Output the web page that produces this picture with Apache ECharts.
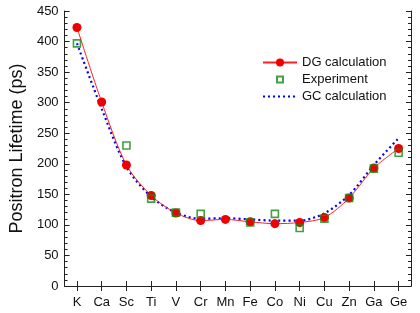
<!DOCTYPE html>
<html><head><meta charset="utf-8">
<script src="https://cdn.jsdelivr.net/npm/echarts@6/dist/echarts.min.js"></script>
<style>html,body{margin:0;padding:0;background:#fff}#c{width:420px;height:313px}</style>
</head><body><div id="c"></div>
<script>
const elements = ['K','Ca','Sc','Ti','V','Cr','Mn','Fe','Co','Ni','Cu','Zn','Ga','Ge'];
const dgCalc = [423, 301, 198, 148, 119.5, 107, 109, 105, 102, 104, 112, 144, 193, 225];
const experiment = [397, null, 230, 143, 120, 118, null, 104, 118, 95, 110, 144, 192, 218];
const gcCalc = [397, 290, 195, 146, 120, 110, 111, 109, 107, 107, 119, 149, 198, 242];
const yTicks = [0, 450, 50];

const font = 'Liberation Sans, Arial, Helvetica, sans-serif';
const axisCol = '#222';
const chart = echarts.init(document.getElementById('c'));
const xBase = {
  type: 'category', data: elements, boundaryGap: true,
  axisLine: {lineStyle: {color: axisCol, width: 1}},
  axisTick: {show: true, inside: true, alignWithLabel: true, length: 5, lineStyle: {color: axisCol}},
  splitLine: {show: false}
};
const yBase = {
  type: 'value', min: yTicks[0], max: yTicks[1], interval: yTicks[2],
  axisLine: {show: true, lineStyle: {color: axisCol, width: 1}},
  axisTick: {show: true, inside: true, length: 5, lineStyle: {color: axisCol}},
  minorTick: {show: true, splitNumber: 5, length: 3, lineStyle: {color: axisCol}},
  splitLine: {show: false}
};
chart.setOption({
  animation: false,
  textStyle: {fontFamily: font},
  grid: {left: 59, top: 11, right: 9, bottom: 27},
  legend: {
    orient: 'vertical', left: 257, top: 51, itemWidth: 34, itemHeight: 10, itemGap: 4,
    textStyle: {fontSize: 13, color: '#111', fontFamily: font},
    data: [
      {name: 'DG calculation'},
      {name: 'Experiment', icon: 'path://M0,0M34,10M14,2h6v6h-6z'},
      {name: 'GC calculation', itemStyle: {opacity: 0}}
    ]
  },
  xAxis: [
    Object.assign({}, xBase, {position: 'bottom', axisLabel: {color: '#111', fontSize: 13, margin: 10, fontFamily: font}}),
    Object.assign({}, xBase, {position: 'top', axisLabel: {show: false}})
  ],
  yAxis: [
    Object.assign({}, yBase, {position: 'left', name: 'Positron Lifetime (ps)', nameLocation: 'middle', nameGap: 38,
      nameTextStyle: {fontSize: 18, color: '#111', fontFamily: font},
      axisLabel: {color: '#111', fontSize: 13, margin: 6, fontFamily: font}}),
    Object.assign({}, yBase, {position: 'right', axisLabel: {show: false}})
  ],
  series: [
    {name: 'GC calculation', type: 'line', data: gcCalc, smooth: 0.3, showSymbol: false, symbol: 'none',
      lineStyle: {color: '#0000ff', width: 2.2, type: [2, 3]}, itemStyle: {color: '#0000ff'}, z: 2},
    {name: 'DG calculation', type: 'line', data: dgCalc, smooth: 0.3, symbol: 'circle', symbolSize: 9,
      lineStyle: {color: '#ff2020', width: 1}, itemStyle: {color: '#ee0000'}, z: 3},
    {name: 'Experiment', type: 'scatter', data: experiment, symbol: 'rect', symbolSize: 7,
      itemStyle: {color: 'rgba(255,255,255,0)', borderColor: '#138a13', borderWidth: 1.6}, z: 4}
  ]
});
</script></body></html>
